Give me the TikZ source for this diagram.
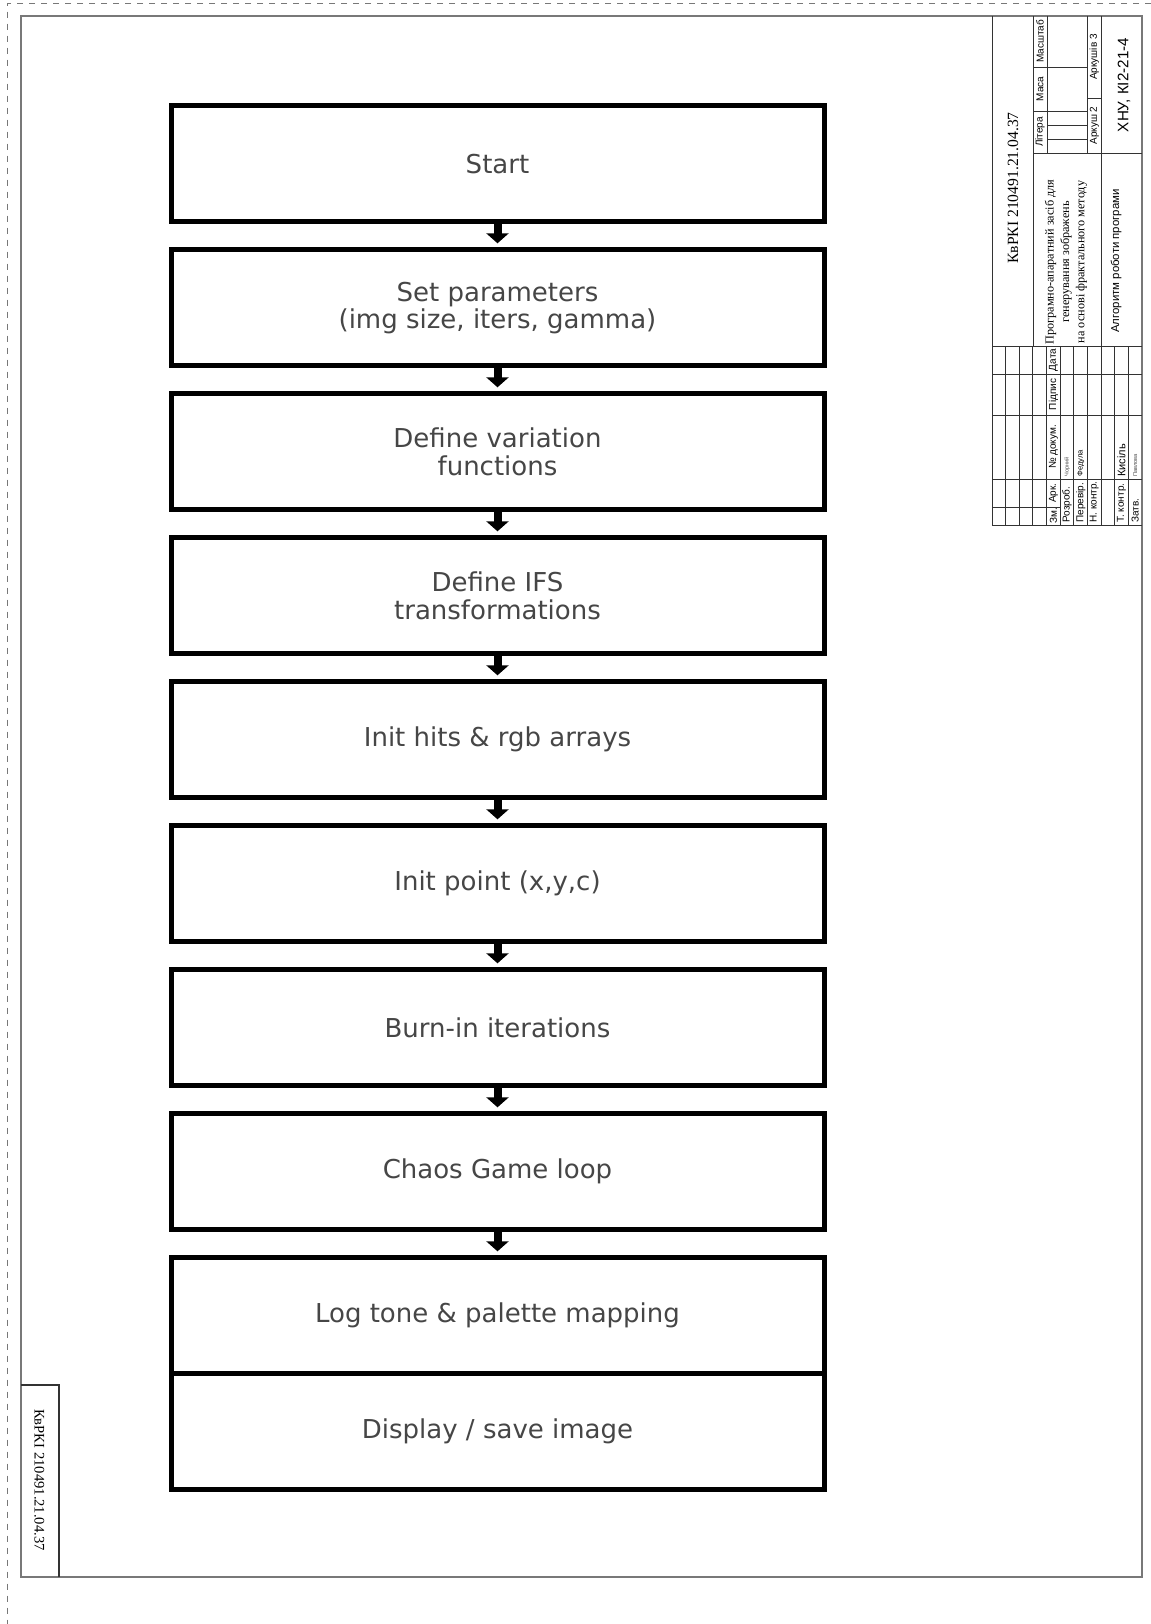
\documentclass[tikz,border=0pt]{standalone}
\usepackage{fontspec}
\setmainfont{Liberation Serif}
\newfontfamily\arialfont{Liberation Sans}
\newfontfamily\flowfont{DejaVu Sans}
\usetikzlibrary{positioning,arrows.meta}
\definecolor{boxtext}{RGB}{70,70,70}
\definecolor{framegray}{RGB}{120,120,120}
\tikzset{
  box/.style={draw, line width=2.5pt, fill=white, minimum width=326.5pt, minimum height=58pt, inner sep=2pt, outer sep=0pt, align=center, text=boxtext, font=\flowfont\fontsize{13}{13.6}\selectfont},
  arr/.style={line width=4pt, -{Triangle[length=5pt,width=11pt]}, shorten >=3.2pt},
  pageframe/.style={draw=framegray, line width=1pt},
  cell/.style={draw=black!80, line width=0.5pt},
  lbl/.style={rotate=90, inner sep=0pt, font=\arialfont\fontsize{5}{6}\selectfont},
  sign/.style={rotate=90, inner sep=0pt, anchor=west, font=\arialfont\fontsize{3.5}{4}\selectfont, text=black!70}
}
\begin{document}
\begin{tikzpicture}[x=0.5pt,y=-0.5pt]
  \useasboundingbox (0,0) rectangle (1151,1624);
  % sheet borders
  \draw[dashed, draw=framegray, line width=0.5pt] (1151,3.5) -- (7,3.5) -- (7,1624);
  \draw[pageframe] (20.5,16) rectangle (1142,1577);
  % flow chart
  \node[box] (start) at (497.5,163.7) {Start};
  \node[box, below=14pt of start] (params) {Set parameters\\(img size, iters, gamma)};
  \node[box, below=14pt of params] (varfun) {Define variation\\functions};
  \node[box, below=14pt of varfun] (ifs) {Define IFS\\transformations};
  \node[box, below=14pt of ifs] (initarr) {Init hits \& rgb arrays};
  \node[box, below=14pt of initarr] (initpt) {Init point (x,y,c)};
  \node[box, below=14pt of initpt] (burnin) {Burn-in iterations};
  \node[box, below=14pt of burnin] (chaos) {Chaos Game loop};
  \node[box, below=14pt of chaos] (tonemap) {Log tone \& palette mapping};
  \node[box, below=0pt of tonemap] (display) {Display / save image};
  \foreach \a/\b in {start/params, params/varfun, varfun/ifs, ifs/initarr, initarr/initpt, initpt/burnin, burnin/chaos, chaos/tonemap}
    \draw[arr] (\a) -- (\b);
  % title block, left part
  \foreach \i in {1,...,10}
    \draw[cell] ({992+13.636*\i},346) -- ({992+13.636*\i},525);
  \draw[cell] (992,16) -- (992,525) -- (1142,525);
  \foreach \yy in {346,374,415,479}
    \draw[cell] (992,\yy) -- (1142,\yy);
  \draw[cell] (992,507) -- (1060.2,507);
  % title block, right part
  \draw[cell] (1033,16) -- (1033,346);
  \draw[cell] (1101,16) -- (1101,346);
  \draw[cell] (1033,153) -- (1142,153);
  \draw[cell] (1047,16) -- (1047,153);
  \draw[cell] (1087.5,16) -- (1087.5,153);
  \foreach \yy in {67,111}
    \draw[cell] (1033,\yy) -- (1087.5,\yy);
  \foreach \yy in {125,139}
    \draw[cell] (1047,\yy) -- (1087.5,\yy);
  \draw[cell] (1087.5,98) -- (1101,98);
  % title block texts
  \node[rotate=90, font=\fontsize{7.8}{9}\selectfont] (code) at (1013,188) {КвРКІ 210491.21.04.37};
  \node[rotate=90, align=center, font=\fontsize{6.1}{7.7}\selectfont] (title) at (1066,262) {Програмно-апаратний засіб для\\генерування зображень\\на основі фрактального методу};
  \node[lbl, font=\arialfont\fontsize{5.7}{7}\selectfont] (docname) at (1116,261) {Алгоритм роботи програми};
  \node[lbl, font=\arialfont\fontsize{7.6}{9}\selectfont] (org) at (1124,85) {ХНУ, КІ2-21-4};
  \node[lbl] (litera) at (1040,132) {Літера};
  \node[lbl] (masa) at (1040,89) {Маса};
  \node[lbl] (masshtab) at (1040,41.5) {Масштаб};
  \node[lbl] (arkush) at (1094.3,125.5) {Аркуш 2};
  \node[lbl] (arkushiv) at (1094.3,57) {Аркушів 3};
  \node[lbl] (zm) at (1053.4,516) {Зм.};
  \node[lbl] (ark) at (1053.4,493) {Арк.};
  \node[lbl] (ndok) at (1053.4,447) {№ докум.};
  \node[lbl] (pidpys) at (1053.4,394.5) {Підпис};
  \node[lbl] (data) at (1053.4,360) {Дата};
  \node[lbl, anchor=west] (rozrob) at (1067,523) {Розроб.};
  \node[lbl, anchor=west] (perevir) at (1080.7,523) {Перевір.};
  \node[lbl, anchor=west] (nkontr) at (1094.3,523) {Н. контр.};
  \node[lbl, anchor=west] (tkontr) at (1121.5,523) {Т. контр.};
  \node[lbl, anchor=west] (zatv) at (1135.2,523) {Затв.};
  \node[sign, font=\arialfont\fontsize{2.8}{3}\selectfont] (chornyi) at (1067,477) {Чорний};
  \node[sign, font=\arialfont\fontsize{3.8}{4}\selectfont, text=black] (fedula) at (1080.7,477) {Федула};
  \node[sign, font=\arialfont\fontsize{5.5}{6}\selectfont, text=black] (kysil) at (1121.5,477) {Кисіль};
  \node[sign, font=\arialfont\fontsize{2.8}{3}\selectfont] (pavlova) at (1135.2,477) {Павлова};
  % side stamp
  \draw[cell, line width=0.6pt] (20.5,1385) -- (59,1385) -- (59,1577);
  \node[rotate=-90, font=\fontsize{7.3}{8}\selectfont] (sidecode) at (39.5,1480) {КвРКІ 210491.21.04.37};
\end{tikzpicture}
\end{document}
